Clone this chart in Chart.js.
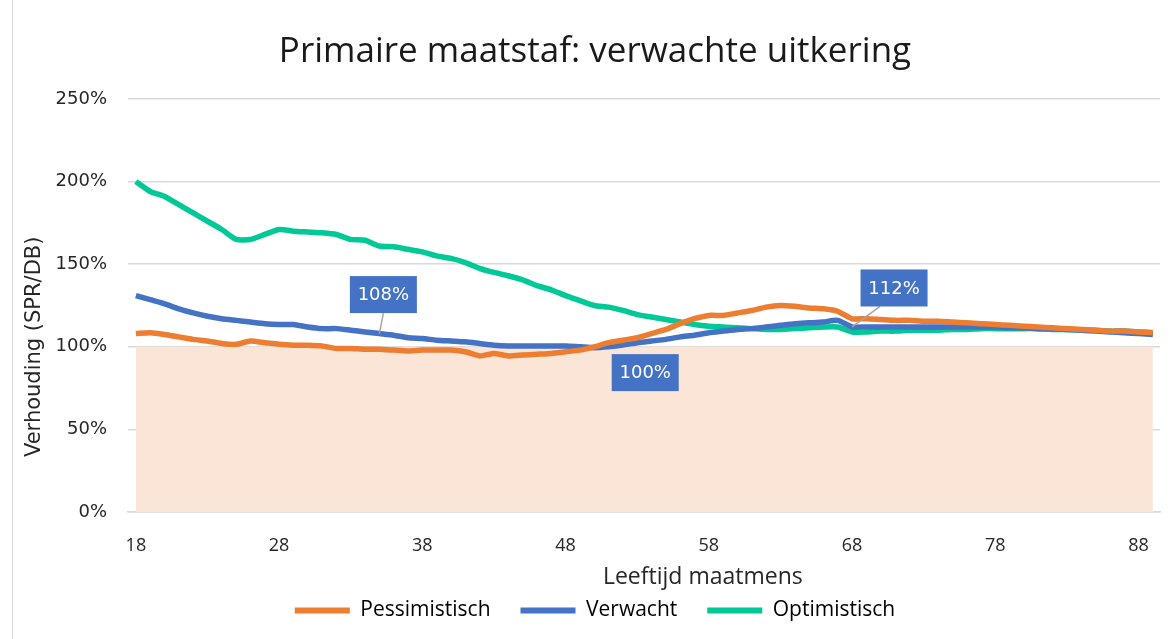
<!DOCTYPE html>
<html>
<head>
<meta charset="utf-8">
<script src="https://cdn.jsdelivr.net/npm/chart.js@4"></script>
<style>
  html, body { margin: 0; padding: 0; background: #fff; }
  #wrap { position: relative; width: 1175px; height: 639px; }
  #wrap:before { content: ''; position: absolute; left: 12px; top: 0; bottom: 0; border-left: 1px solid #d9d9d9; }
</style>
</head>
<body>
<div id="wrap"><canvas id="chart" width="1175" height="639"></canvas></div>
<script>
  // Ages (leeftijd maatmens) and the three scenarios, in percent
  const ages = [];
  for (let a = 18; a <= 89; a++) ages.push(a);

  const pessimistisch = [
    108, 108.5, 107.5, 106, 104.5, 103.5, 102, 101.5, 103.5, 102.5,
    101.5, 101, 101, 100.5, 99, 99, 98.5, 98.5, 98, 97.5,
    98, 98, 98, 97, 94.5, 96, 94.5, 95, 95.5, 96,
    97, 98, 100, 102.5, 104, 105.5, 108, 110.5, 114, 117,
    119, 119, 120.5, 122, 124, 125, 124.5, 123.5, 123, 121.5,
    117, 117, 116.5, 116, 116, 115.5, 115.5, 115, 114.5, 114,
    113.5, 113, 112.5, 112, 111.5, 111, 110.5, 110, 109.5, 109.5,
    109, 108.5
  ];

  const verwacht = [
    131, 128.5, 126, 123, 120.5, 118.5, 117, 116, 115, 114,
    113.5, 113.5, 112, 111, 111, 110, 109, 108, 107, 105.5,
    105, 104, 103.5, 103, 102, 101, 100.5, 100.5, 100.5, 100.5,
    100.5, 100, 99.5, 100, 101, 102.5, 103.5, 104.5, 106, 107,
    108.5, 109.5, 110.5, 111, 112, 113, 114, 114.5, 115, 116,
    112, 112, 112, 112, 112, 112, 112, 112, 112, 112,
    112, 111.5, 111.5, 111, 111, 110.5, 110, 109.5, 109, 108.5,
    108, 107.5
  ];

  const optimistisch = [
    200, 194, 191, 186, 181, 176, 171, 165, 165, 168,
    171, 170, 169.5, 169, 168, 165, 164.5, 161, 160.5, 159,
    157.5, 155, 153.5, 151, 147.5, 145, 143, 140.5, 137, 134.5,
    131, 128, 125, 124, 122, 119.5, 118, 116.5, 115, 113.5,
    112.5, 112, 111.5, 111, 110.5, 110.5, 111, 111.5, 112, 112,
    109, 109, 109.5, 109.5, 110, 110, 110, 110.5, 110.5, 111,
    111, 111, 111, 111, 110.5, 110.5, 110, 110, 109.5, 109.5,
    109, 108.5
  ];

  // reference level (shaded area)
  const referentie = ages.map(() => 100);

  const xTicks = [18, 28, 38, 48, 58, 68, 78, 88];
  const yTicks = [0, 50, 100, 150, 200, 250];

  // callouts on the Verwacht line: age, shown text
  const calloutAges = [35, 50, 68];
  const calloutTexts = ['108%', '100%', '112%'];
  // box offset from point (px) and whether a leader line is drawn
  const calloutPlacement = [
    { dx: 4, dy: -39, leader: true },
    { dx: 51, dy: 25, leader: false },
    { dx: 42, dy: -39, leader: true }
  ];

  const font = '"Open Sans", "Liberation Sans", sans-serif';
  const wide = '"DejaVu Sans", Verdana, sans-serif';

  const toXY = arr => arr.map((v, i) => ({ x: ages[i], y: v }));

  const calloutPlugin = {
    id: 'callouts',
    afterDatasetsDraw(chart) {
      const ctx = chart.ctx;
      const meta = chart.getDatasetMeta(2); // Verwacht
      ctx.save();
      calloutAges.forEach((age, k) => {
        const pt = meta.data[ages.indexOf(age)];
        const p = calloutPlacement[k];
        const cx = pt.x + p.dx, cy = pt.y + p.dy;
        const w = 67, h = 37;
        if (p.leader) {
          ctx.strokeStyle = '#a6a6a6';
          ctx.lineWidth = 1.5;
          ctx.beginPath();
          ctx.moveTo(cx - (p.dx > 20 ? 14 : 0), cy + h / 2);
          ctx.lineTo(pt.x, pt.y);
          ctx.stroke();
        }
        ctx.fillStyle = '#4472C4';
        ctx.fillRect(cx - w / 2, cy - h / 2, w, h);
        ctx.fillStyle = '#ffffff';
        ctx.font = '18px ' + wide;
        ctx.textAlign = 'center';
        ctx.textBaseline = 'middle';
        ctx.fillText(calloutTexts[k], cx, cy + 1);
      });
      ctx.restore();
    }
  };

  // axis titles drawn by hand so they sit where the original has them
  const axisTitlePlugin = {
    id: 'axisTitles',
    afterDraw(chart) {
      const ctx = chart.ctx;
      const a = chart.chartArea;
      ctx.save();
      ctx.fillStyle = '#262626';
      ctx.textAlign = 'center';
      ctx.textBaseline = 'middle';
      ctx.font = '23px ' + font;
      ctx.fillText('Leeftijd maatmens', a.left + (a.right - a.left) * 0.557, a.bottom + 65);
      ctx.translate(35, a.top + (a.bottom - a.top) * 0.6);
      ctx.rotate(-Math.PI / 2);
      ctx.font = '21px ' + wide;
      ctx.fillText('Verhouding (SPR/DB)', 0, 0);
      ctx.restore();
    }
  };

  new Chart(document.getElementById('chart'), {
    type: 'line',
    data: {
      datasets: [
        {
          label: 'Referentie',
          data: toXY(referentie),
          borderWidth: 0,
          pointRadius: 0,
          backgroundColor: 'rgba(251, 229, 214, 1)',
          fill: 'origin',
          order: 10
        },
        {
          label: 'Pessimistisch',
          data: toXY(pessimistisch),
          borderColor: '#ED7D31',
          borderWidth: 5.5,
          pointRadius: 0,
          fill: false,
          tension: 0.2
        },
        {
          label: 'Verwacht',
          data: toXY(verwacht),
          borderColor: '#4472C4',
          borderWidth: 5.5,
          pointRadius: 0,
          fill: false,
          tension: 0.2
        },
        {
          label: 'Optimistisch',
          data: toXY(optimistisch),
          borderColor: '#00C896',
          borderWidth: 5.5,
          pointRadius: 0,
          fill: false,
          tension: 0.2
        }
      ]
    },
    options: {
      responsive: false,
      animation: false,
      layout: { padding: { left: 30, right: 15, top: 0, bottom: 8 } },
      scales: {
        x: {
          type: 'linear',
          min: 17.45,
          max: 89.5,
          afterBuildTicks: axis => { axis.ticks = xTicks.map(v => ({ value: v })); },
          afterFit: scale => { scale.height = 58; },
          grid: { display: false, drawTicks: false },
          border: { display: true, color: '#d9d9d9', width: 1.5 },
          ticks: {
            autoSkip: false,
            maxRotation: 0,
            padding: 23,
            color: '#262626',
            font: { family: font, size: 18 },
            callback: v => String(v)
          }
        },
        y: {
          min: 0,
          max: 250,
          afterBuildTicks: axis => { axis.ticks = yTicks.map(v => ({ value: v })); },
          afterFit: scale => { scale.width = 98; },
          grid: { color: '#d9d9d9', lineWidth: 1.5, drawTicks: false },
          border: { display: false },
          ticks: {
            padding: 21,
            color: '#262626',
            font: { family: wide, size: 18 },
            callback: v => v + '%'
          }
        }
      },
      plugins: {
        title: {
          display: true,
          text: 'Primaire maatstaf: verwachte uitkering',
          color: '#1a1a1a',
          font: { family: font, size: 35, weight: 'normal' },
          padding: { top: 31, bottom: 26 }
        },
        legend: {
          position: 'bottom',
          labels: {
            boxWidth: 55,
            boxHeight: 6,
            padding: 30,
            color: '#262626',
            font: { family: font, size: 21 },
            filter: item => item.datasetIndex > 0,
            generateLabels: chart => chart.data.datasets.map((ds, i) => ({
              text: ds.label,
              fillStyle: ds.borderColor,
              strokeStyle: ds.borderColor,
              lineWidth: 0,
              hidden: false,
              datasetIndex: i
            }))
          }
        },
        tooltip: { enabled: false }
      }
    },
    plugins: [calloutPlugin, axisTitlePlugin]
  });
</script>
</body>
</html>
